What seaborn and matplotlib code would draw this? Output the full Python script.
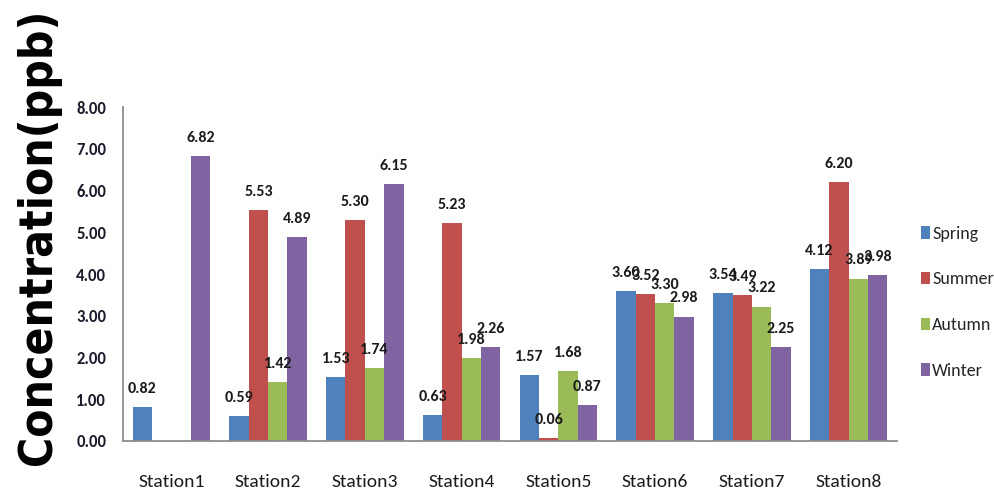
import pandas as pd
import seaborn as sns
import matplotlib.pyplot as plt
import numpy as np

stations = ['Station1', 'Station2', 'Station3', 'Station4',
            'Station5', 'Station6', 'Station7', 'Station8']
seasons = ['Spring', 'Summer', 'Autumn', 'Winter']

spring = [0.82, 0.59, 1.53, 0.63, 1.57, 3.60, 3.54, 4.12]
summer = [np.nan, 5.53, 5.30, 5.23, 0.06, 3.52, 3.49, 6.20]
autumn = [np.nan, 1.42, 1.74, 1.98, 1.68, 3.30, 3.22, 3.89]
winter = [6.82, 4.89, 6.15, 2.26, 0.87, 2.98, 2.25, 3.98]

yticks = [0, 1, 2, 3, 4, 5, 6, 7, 8]

colors = [
    "#4F81BD",  # blue
    "#C0504D",  # red
    "#9BBB59",  # green
    "#8064A2",  # purple
]

#####################################################################
df = pd.DataFrame({'Station': stations, 'Spring': spring, 'Summer': summer,
                   'Autumn': autumn, 'Winter': winter})
df_plot = pd.melt(df, id_vars=['Station'], value_vars=seasons,
                  var_name='Season', value_name='Conc')

sns.set_theme(style="white")
plt.rcParams['font.family'] = ['Carlito', 'DejaVu Sans']

fig = plt.figure(figsize=(9.94, 4.95), dpi=100)
ax = fig.add_axes([0.1237, 0.1091, 0.7787, 0.6747])

sns.barplot(data=df_plot, x='Station', y='Conc', hue='Season',
            order=stations, hue_order=seasons, palette=colors,
            saturation=1, width=0.8, linewidth=0, errorbar=None, ax=ax)

for cont in ax.containers:
    ax.bar_label(cont, fmt='%.2f', padding=8, fontsize=11.5,
                 fontweight='bold', color='#1a1a1a')

ax.set_ylim(0, 8)
ax.set_xlim(-0.5, len(stations) - 0.5)
ax.set_yticks(yticks)
ax.set_yticklabels(['%.2f' % v for v in yticks], fontsize=12,
                   fontweight='bold', color='#1a1a2a')
ax.set_xticks(range(len(stations)))
ax.set_xticklabels(stations, fontsize=14, color='#1a1a1a')
ax.tick_params(axis='y', length=0, pad=12)
ax.tick_params(axis='x', length=0, pad=24)
ax.set_xlabel('')
ax.set_ylabel('')

for side in ['top', 'right']:
    ax.spines[side].set_visible(False)
for side in ['left', 'bottom']:
    ax.spines[side].set_color('#8c8c8c')
    ax.spines[side].set_linewidth(1.3)

sns.move_legend(ax, 'center left', bbox_to_anchor=(1.02, 0.415),
                frameon=False, title=None, fontsize=13,
                handlelength=0.45, handleheight=0.7, handletextpad=0.15,
                labelspacing=1.65, borderpad=0)

fig.text(39 / 994, 1 - 237 / 495, 'Concentration(ppb)', rotation=90,
         ha='center', va='center', fontsize=33, fontweight='bold',
         family='DejaVu Sans', fontstretch='condensed', color='black')

fig.savefig('out.png', dpi=100)
